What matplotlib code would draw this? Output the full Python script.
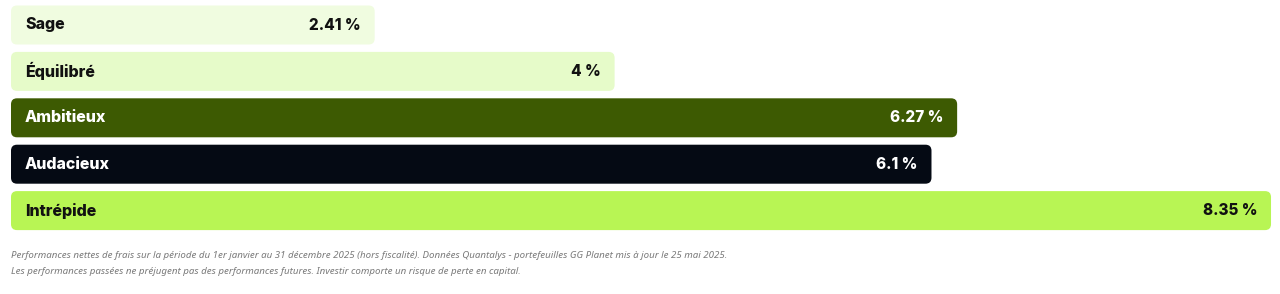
import matplotlib
matplotlib.use("Agg")
import matplotlib.pyplot as plt
from matplotlib.patches import FancyBboxPatch

categories = ["Sage", "Équilibré", "Ambitieux", "Audacieux", "Intrépide"]
values = [2.41, 4, 6.27, 6.1, 8.35]
value_labels = ["2.41 %", "4 %", "6.27 %", "6.1 %", "8.35 %"]
colors = ["#f0fce0", "#e6fbc9", "#3d5a02", "#050a14", "#b8f554"]
text_colors = ["#111111", "#111111", "#ffffff", "#ffffff", "#111111"]
footnotes = [
    "Performances nettes de frais sur la période du 1er janvier au 31 décembre 2025 (hors fiscalité). Données Quantalys - portefeuilles GG Planet mis à jour le 25 mai 2025.",
    "Les performances passées ne préjugent pas des performances futures. Investir comporte un risque de perte en capital.",
]

W, H = 1280, 294
fig = plt.figure(figsize=(W / 100, H / 100), dpi=100)
ax = fig.add_axes([0, 0, 1, 1])

px_x = 150.9   # pixels per value unit
px_y = 46.4    # pixels per category step
x0 = 11
ax.set_xlim(-x0 / px_x, (W - x0) / px_x)
ax.set_ylim((H - 25) / px_y, -25 / px_y)
ax.axis("off")

bars = ax.barh(range(len(categories)), values, height=39 / px_y, color=colors)
r = 6 / px_x
for bar, c, tc, cat, lab in zip(bars, colors, text_colors, categories, value_labels):
    bx, by, bw, bh = bar.get_x(), bar.get_y(), bar.get_width(), bar.get_height()
    bar.set_visible(False)
    p = FancyBboxPatch((bx, by), bw, bh,
                       boxstyle=f"round,pad=0,rounding_size={r}",
                       mutation_aspect=px_x / px_y,
                       facecolor=c, edgecolor="none")
    ax.add_patch(p)
    yc = by + bh / 2
    ax.text(bx + 14 / px_x, yc, cat, ha="left", va="center",
            fontsize=11.5, fontweight="heavy", family="Inter", color=tc)
    ax.text(bx + bw - 14 / px_x, yc, lab, ha="right", va="center",
            fontsize=11, fontweight="heavy", family="Inter", color=tc)

for i, line in enumerate(footnotes):
    fig.text(11 / W, 1 - (256 + 15 * i) / H, line, ha="left", va="center",
             fontsize=7.0, style="italic", fontstretch="normal",
             family="Noto Sans", color="#7a7a7a")

fig.savefig("out.png", dpi=100)
